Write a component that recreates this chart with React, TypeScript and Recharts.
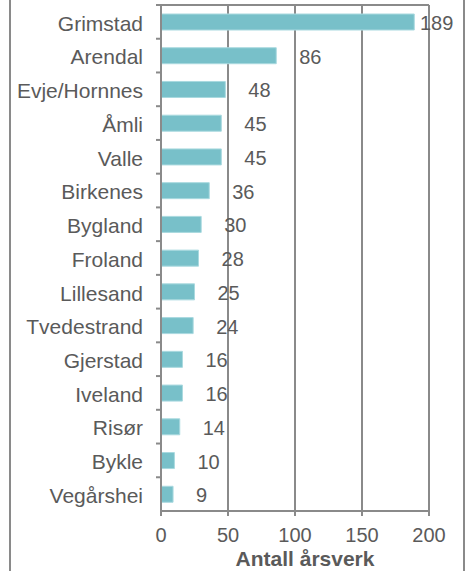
import React from 'react';
import { BarChart, Bar, XAxis, YAxis, CartesianGrid, LabelList } from 'recharts';

const categories = ['Grimstad', 'Arendal', 'Evje/Hornnes', 'Åmli', 'Valle', 'Birkenes', 'Bygland', 'Froland', 'Lillesand', 'Tvedestrand', 'Gjerstad', 'Iveland', 'Risør', 'Bykle', 'Vegårshei'];
const values = [189, 86, 48, 45, 45, 36, 30, 28, 25, 24, 16, 16, 14, 10, 9];
const xTicks = [0, 50, 100, 150, 200];
const axisTitle = 'Antall årsverk';

const data = categories.map((name, i) => ({ name, value: values[i] }));

const W = 473;
const H = 571;
const M = { top: 5, right: 44, left: 0, bottom: 0 };
const Y_W = 161;
const X_H = 60;
const PLOT_H = H - M.top - M.bottom - X_H;
const BAND = PLOT_H / categories.length;
const GRAY = '#8a8a8a';
const TEXT = '#5a5a5a';
const FONT = '"Liberation Sans", Arial, sans-serif';

const YTick = (props: any) => {
  const { y, payload } = props;
  const axisX = M.left + Y_W;
  return (
    <g>
      <line x1={axisX - 5} x2={axisX} y1={y - BAND / 2} y2={y - BAND / 2} stroke={GRAY} strokeWidth={2} />
      <text x={axisX - 18} y={y} dy="0.42em" textAnchor="end" fill={TEXT} fontSize={21} fontFamily={FONT}>
        {payload.value}
      </text>
    </g>
  );
};

const ValueLabel = (props: any) => {
  const { x, y, width, height, value } = props;
  const plotRight = W - M.right;
  const lx = Math.min(x + width + 23, plotRight - 9);
  return (
    <text x={lx} y={y + height / 2} dy="0.4em" fill={TEXT} fontSize={20} fontFamily={FONT}>
      {value}
    </text>
  );
};

const AxisTitle = (props: any) => {
  const { viewBox } = props;
  return (
    <text x={viewBox.x + viewBox.width / 2 + 10} y={viewBox.y + 55} textAnchor="middle" fill={TEXT} fontSize={21} fontWeight="bold" fontFamily={FONT}>
      {axisTitle}
    </text>
  );
};

export default function App() {
  return (
    <div style={{ position: 'absolute', left: 0, top: 0, width: W, height: H, background: '#fff', overflow: 'hidden' }}>
      <div style={{ position: 'absolute', left: 9, top: -10, width: 452, height: H + 20, borderLeft: `2px solid ${GRAY}`, borderRight: `2px solid ${GRAY}` }} />
      <BarChart width={W} height={H} data={data} layout="vertical" margin={M} barCategoryGap={0}>
        <CartesianGrid
          stroke={GRAY}
          strokeWidth={2}
          horizontalCoordinatesGenerator={({ offset }: any) => [offset.top]}
        />
        <XAxis
          type="number"
          domain={[0, 200]}
          ticks={xTicks}
          height={X_H}
          axisLine={{ stroke: GRAY, strokeWidth: 2 }}
          tickLine={{ stroke: GRAY, strokeWidth: 2 }}
          tickSize={5}
          tickMargin={12}
          tick={{ fill: TEXT, fontSize: 20, fontFamily: FONT }}
          label={<AxisTitle />}
        />
        <YAxis
          type="category"
          dataKey="name"
          width={Y_W}
          axisLine={{ stroke: GRAY, strokeWidth: 2 }}
          tickLine={false}
          tick={<YTick />}
          interval={0}
        />
        <Bar dataKey="value" fill="#78C0C9" stroke="#a9d9df" strokeWidth={1} barSize={16} isAnimationActive={false}>
          <LabelList dataKey="value" content={<ValueLabel />} />
        </Bar>
      </BarChart>
    </div>
  );
}
